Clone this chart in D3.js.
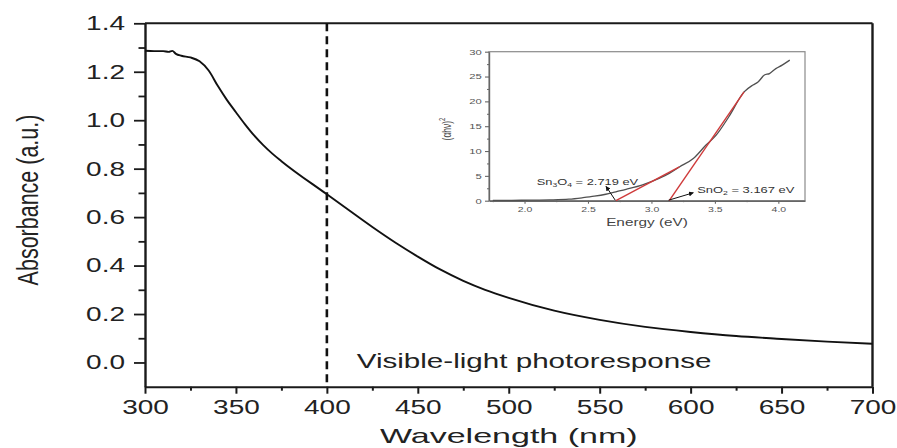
<!DOCTYPE html>
<html>
<head>
<meta charset="utf-8">
<script src="https://cdn.jsdelivr.net/npm/d3@7"></script>
<style>
  html, body { margin: 0; padding: 0; background: #fff; }
  svg { display: block; font-family: "Liberation Sans", Arial, sans-serif; }
</style>
</head>
<body>
<svg id="chart" width="897" height="448"></svg>
<script>
// ---------------- data ----------------
const wavelength = [300, 305, 310, 313, 315, 317, 320, 325, 330, 335, 340, 345, 350, 355, 360, 365, 370, 375, 400, 412, 425, 438, 450, 462, 475, 487, 500, 525, 550, 575, 600, 625, 650, 675, 700];
const absorbance = [1.287, 1.285, 1.285, 1.282, 1.286, 1.274, 1.266, 1.259, 1.243, 1.205, 1.142, 1.084, 1.033, 0.983, 0.937, 0.897, 0.862, 0.831, 0.694, 0.629, 0.559, 0.493, 0.437, 0.385, 0.337, 0.300, 0.267, 0.214, 0.176, 0.147, 0.126, 0.109, 0.097, 0.086, 0.077];
const xTicks = [300, 350, 400, 450, 500, 550, 600, 650, 700];
const xMinorTicks = [325, 375, 425, 475, 525, 575, 625, 675];
const yTicks = [0.0, 0.2, 0.4, 0.6, 0.8, 1.0, 1.2, 1.4];
const yMinorTicks = [0.1, 0.3, 0.5, 0.7, 0.9, 1.1, 1.3];
const markerWavelength = [400];
const xLabel = "Wavelength (nm)";
const yLabel = "Absorbance (a.u.)";
const regionLabel = "Visible-light photoresponse";

// inset (Tauc plot)
const insetEnergy = [1.75, 1.9, 2.05, 2.2, 2.35, 2.46, 2.55, 2.64, 2.72, 2.80, 2.93, 3.06, 3.14, 3.22, 3.33, 3.43, 3.51, 3.61, 3.73, 3.80, 3.84, 3.89, 3.93, 3.98, 4.03, 4.09];
const insetValue = [0.05, 0.08, 0.1, 0.15, 0.3, 0.6, 0.9, 1.3, 1.8, 2.3, 3.2, 4.5, 5.5, 6.8, 8.5, 11.2, 13.2, 16.9, 21.9, 23.3, 23.9, 25.3, 25.6, 26.6, 27.3, 28.3];
const tangentSn3O4Energy = [2.72, 3.22];
const tangentSn3O4Value = [0, 6.8];
const tangentSnO2Energy = [3.14, 3.73];
const tangentSnO2Value = [0, 21.9];
const insetXTicks = [2.0, 2.5, 3.0, 3.5, 4.0];
const insetXMinorTicks = [1.75, 2.25, 2.75, 3.25, 3.75];
const insetYTicks = [0, 5, 10, 15, 20, 25, 30];
const insetYMinorTicks = [2.5, 7.5, 12.5, 17.5, 22.5, 27.5];
const insetXLabel = "Energy (eV)";

// ---------------- layout ----------------
const svg = d3.select("#chart");
const x = d3.scaleLinear().domain([300, 700]).range([145, 872.5]);
const y = d3.scaleLinear().domain([-0.1, 1.4]).range([386.7, 23.3]);
const ink = "#1a1a1a";

svg.append("defs").append("marker")
  .attr("id", "arrow").attr("viewBox", "0 0 10 10").attr("refX", 9).attr("refY", 5)
  .attr("markerWidth", 5).attr("markerHeight", 5).attr("orient", "auto-start-reverse")
  .append("path").attr("d", "M0,0 L10,5 L0,10 z").attr("fill", "#111");

// frame top & right
svg.append("line").attr("x1", x.range()[0]).attr("x2", x.range()[1]).attr("y1", y(1.4)).attr("y2", y(1.4))
  .attr("stroke", ink).attr("stroke-width", 2);
svg.append("line").attr("x1", x(700)).attr("x2", x(700)).attr("y1", y(1.4)).attr("y2", y(-0.1))
  .attr("stroke", ink).attr("stroke-width", 2.4);

// minor ticks
svg.append("g").attr("transform", `translate(${x(300)},0)`)
  .call(d3.axisLeft(y).tickValues(yMinorTicks).tickSize(6.5).tickSizeOuter(0).tickFormat(""))
  .call(g => g.select(".domain").remove())
  .call(g => g.selectAll("line").attr("stroke", ink).attr("stroke-width", 1.8));
svg.append("g").attr("transform", `translate(0,${y(-0.1)})`)
  .call(d3.axisBottom(x).tickValues(xMinorTicks).tickSize(4).tickSizeOuter(0).tickFormat(""))
  .call(g => g.select(".domain").remove())
  .call(g => g.selectAll("line").attr("stroke", ink).attr("stroke-width", 2));

// major y axis
svg.append("g").attr("transform", `translate(${x(300)},0)`)
  .call(d3.axisLeft(y).tickValues(yTicks).tickSize(11).tickSizeOuter(0).tickFormat(d3.format(".1f")))
  .call(g => g.select(".domain").attr("stroke", ink).attr("stroke-width", 2.4))
  .call(g => g.selectAll("line").attr("stroke", ink).attr("stroke-width", 1.8))
  .call(g => g.selectAll("text").attr("x", null).attr("font-size", 20).attr("fill", "#222")
    .attr("font-family", "Liberation Sans, Arial, sans-serif")
    .attr("transform", "translate(-20,0) scale(1.4,1)"));

// major x axis
svg.append("g").attr("transform", `translate(0,${y(-0.1)})`)
  .call(d3.axisBottom(x).tickValues(xTicks).tickSize(7).tickSizeOuter(0).tickPadding(6).tickFormat(d3.format("d")))
  .call(g => g.select(".domain").attr("stroke", ink).attr("stroke-width", 2))
  .call(g => g.selectAll("line").attr("stroke", ink).attr("stroke-width", 2))
  .call(g => g.selectAll("text").attr("font-size", 20).attr("fill", "#222")
    .attr("font-family", "Liberation Sans, Arial, sans-serif")
    .attr("transform", "scale(1.4,1)"));

// axis titles
svg.append("text").attr("text-anchor", "middle").attr("font-size", 20.5).attr("fill", "#222")
  .attr("transform", `translate(${(x(300) + x(700)) / 2},443) scale(1.66,1)`).text(xLabel);
svg.append("text").attr("text-anchor", "middle").attr("dominant-baseline", "central")
  .attr("font-size", 21.5).attr("fill", "#222")
  .attr("transform", `translate(28,200) rotate(-90) scale(1,1.4)`).text(yLabel);

// dashed marker line at 400 nm
svg.selectAll(".marker").data(markerWavelength).enter().append("line")
  .attr("x1", d => x(d)).attr("x2", d => x(d)).attr("y1", y(1.4)).attr("y2", y(-0.1))
  .attr("stroke", "#111").attr("stroke-width", 2.6).attr("stroke-dasharray", "8,5");

// region label
svg.append("text").attr("font-size", 20).attr("fill", "#222")
  .attr("transform", `translate(${x(416.4)},${y(-0.024)}) scale(1.48,1)`).text(regionLabel);

// main curve
const mainData = wavelength.map((w, i) => [w, absorbance[i]]);
svg.append("path").datum(mainData)
  .attr("fill", "none").attr("stroke", "#111").attr("stroke-width", 1.9)
  .attr("d", d3.line().x(d => x(d[0])).y(d => y(d[1])).curve(d3.curveMonotoneX));

// ---------------- inset ----------------
const ix = d3.scaleLinear().domain([1.72, 4.21]).range([489, 805]);
const iy = d3.scaleLinear().domain([0, 30]).range([200.7, 51.7]);
const inset = svg.append("g");
const ig = "#666";

inset.append("rect").attr("x", ix.range()[0]).attr("y", iy.range()[1])
  .attr("width", ix.range()[1] - ix.range()[0]).attr("height", iy.range()[0] - iy.range()[1])
  .attr("fill", "#fff").attr("stroke", "#8a8a8a").attr("stroke-width", 1.2);

inset.append("g").attr("transform", `translate(${ix.range()[0]},0)`)
  .call(d3.axisLeft(iy).tickValues(insetYMinorTicks).tickSize(2).tickSizeOuter(0).tickFormat(""))
  .call(g => g.select(".domain").remove())
  .call(g => g.selectAll("line").attr("stroke", ig));
inset.append("g").attr("transform", `translate(0,${iy.range()[0]})`)
  .call(d3.axisBottom(ix).tickValues(insetXMinorTicks).tickSize(1.5).tickSizeOuter(0).tickFormat(""))
  .call(g => g.select(".domain").remove())
  .call(g => g.selectAll("line").attr("stroke", ig));

inset.append("g").attr("transform", `translate(${ix.range()[0]},0)`)
  .call(d3.axisLeft(iy).tickValues(insetYTicks).tickSize(4).tickSizeOuter(0).tickFormat(d3.format("d")))
  .call(g => g.select(".domain").attr("stroke", ig).attr("stroke-width", 1.4))
  .call(g => g.selectAll("line").attr("stroke", ig).attr("stroke-width", 1.1))
  .call(g => g.selectAll("text").attr("x", null).attr("font-size", 7.5).attr("fill", "#555")
    .attr("font-family", "Liberation Sans, Arial, sans-serif")
    .attr("transform", "translate(-7.3,0) scale(1.5,1)"));
inset.append("g").attr("transform", `translate(0,${iy.range()[0]})`)
  .call(d3.axisBottom(ix).tickValues(insetXTicks).tickSize(3).tickSizeOuter(0).tickPadding(3).tickFormat(d3.format(".1f")))
  .call(g => g.select(".domain").attr("stroke", ig).attr("stroke-width", 1.4))
  .call(g => g.selectAll("line").attr("stroke", ig).attr("stroke-width", 1.1))
  .call(g => g.selectAll("text").attr("font-size", 7.5).attr("fill", "#555")
    .attr("font-family", "Liberation Sans, Arial, sans-serif")
    .attr("transform", "scale(1.4,1)"));

inset.append("text").attr("text-anchor", "middle").attr("font-size", 10.5).attr("fill", "#444")
  .attr("transform", `translate(${(ix.range()[0] + ix.range()[1]) / 2},225.5) scale(1.46,1)`).text(insetXLabel);
const iyl = inset.append("text").attr("text-anchor", "middle").attr("dominant-baseline", "central")
  .attr("font-size", 8.5).attr("fill", "#444")
  .attr("transform", `translate(446.3,129) rotate(-90) scale(1,1.4)`);
iyl.append("tspan").text("(αhν)");
iyl.append("tspan").attr("font-size", 6).attr("dy", -3.5).text("2");

// inset curve
const insetData = insetEnergy.map((e, i) => [e, insetValue[i]]);
inset.append("path").datum(insetData)
  .attr("fill", "none").attr("stroke", "#505050").attr("stroke-width", 1.3)
  .attr("d", d3.line().x(d => ix(d[0])).y(d => iy(d[1])).curve(d3.curveMonotoneX));

// tangent lines
const tangents = [
  tangentSn3O4Energy.map((e, i) => [e, tangentSn3O4Value[i]]),
  tangentSnO2Energy.map((e, i) => [e, tangentSnO2Value[i]])
];
inset.selectAll(".tangent").data(tangents).enter().append("path")
  .attr("fill", "none").attr("stroke", "#cf3a3a").attr("stroke-width", 1.4)
  .attr("d", d3.line().x(d => ix(d[0])).y(d => iy(d[1])));

// annotations
function annot(textParts, tx, ty, arrowFrom, arrowTo, sx) {
  const t = inset.append("text").attr("font-size", 9).attr("fill", "#333")
    .attr("transform", `translate(${ix(tx)},${iy(ty)}) scale(${sx},1)`);
  textParts.forEach(p => {
    const ts = t.append("tspan").text(p.t);
    if (p.sub) ts.attr("font-size", 6).attr("dy", 2);
    if (p.up) ts.attr("dy", -2);
  });
  inset.append("line")
    .attr("x1", ix(arrowFrom[0])).attr("y1", iy(arrowFrom[1]))
    .attr("x2", ix(arrowTo[0])).attr("y2", iy(arrowTo[1]))
    .attr("stroke", "#111").attr("stroke-width", 1).attr("marker-end", "url(#arrow)");
}
annot([{t: "Sn"}, {t: "3", sub: true}, {t: "O", up: true}, {t: "4", sub: true}, {t: " = 2.719 eV", up: true}],
  2.096, 3.16, [2.715, 0.1], [2.642, 2.9], 1.43);
annot([{t: "SnO"}, {t: "2", sub: true}, {t: " = 3.167 eV", up: true}],
  3.36, 1.49, [3.135, 0.1], [3.33, 1.6], 1.44);
</script>
</body>
</html>
